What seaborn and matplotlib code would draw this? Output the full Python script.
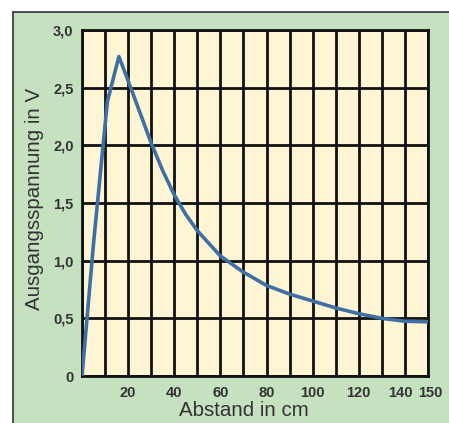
import matplotlib
matplotlib.use("Agg")
import matplotlib.pyplot as plt
import matplotlib.transforms as mtransforms
import seaborn as sns
import pandas as pd
from matplotlib.patches import Rectangle

# Data
abstand_cm = [0, 5, 11, 16, 20, 25, 30, 35, 40, 45, 50, 60, 70, 80, 90, 100, 110, 120, 130, 140, 150]
spannung_v = [0.0, 1.15, 2.38, 2.77, 2.56, 2.29, 2.02, 1.78, 1.57, 1.40, 1.26, 1.04, 0.90, 0.785, 0.71,
              0.65, 0.59, 0.54, 0.50, 0.475, 0.47]

x_grid = list(range(0, 151, 10))
x_tick_labels = ["", "", "20", "", "40", "", "60", "", "80", "", "100", "", "120", "", "140", "150"]
y_ticks = [0, 0.5, 1.0, 1.5, 2.0, 2.5, 3.0]
y_tick_labels = ["0", "0,5", "1,0", "1,5", "2,0", "2,5", "3,0"]

df = pd.DataFrame({"Abstand": abstand_cm, "Spannung": spannung_v})

sns.set_style("white")
plt.rcParams["font.family"] = ["Liberation Sans", "DejaVu Sans"]

fig = plt.figure(figsize=(4.49, 4.23), dpi=100)
fig.patch.set_facecolor("white")
# green panel with dark top/left border
panel = Rectangle((13 / 449, 0), 1 - 13 / 449 + 0.01, 1 - 12 / 423, transform=fig.transFigure,
                  facecolor="#c6e1c0", edgecolor="none", zorder=-5)
fig.patches.append(panel)
fig.add_artist(plt.Line2D([13 / 449, 13 / 449], [0, 1 - 12 / 423], color="#333333", lw=1.2,
                          transform=fig.transFigure, zorder=-4))
fig.add_artist(plt.Line2D([13 / 449, 1], [1 - 12 / 423, 1 - 12 / 423], color="#333333", lw=1.2,
                          transform=fig.transFigure, zorder=-4))

ax = fig.add_axes([82 / 449, 47 / 423, 346 / 449, 346 / 423])
ax.set_zorder(5)
ax.set_facecolor("#fdf5d3")

sns.lineplot(data=df, x="Abstand", y="Spannung", ax=ax, color="#3f6fa3", linewidth=2.6,
             zorder=5)

ax.set_xlim(0, 150)
ax.set_ylim(0, 3.0)
ax.set_xticks(x_grid)
ax.set_xticklabels(x_tick_labels)
ax.set_yticks(y_ticks)
ax.set_yticklabels(y_tick_labels)
ax.grid(True, color="#111111", linewidth=2.0, zorder=1)
ax.set_axisbelow(True)
for s in ax.spines.values():
    s.set_visible(True)
    s.set_color("#111111")
    s.set_linewidth(2.0)

ax.tick_params(axis="both", length=0, labelsize=10.5, labelcolor="#333333")
ax.tick_params(axis="y", pad=6)
ax.tick_params(axis="x", pad=7)
for lbl in ax.get_xticklabels() + ax.get_yticklabels():
    lbl.set_fontweight("bold")

# nudge the crowded end labels apart like in the reference
xl = ax.get_xticklabels()
xl[14].set_transform(xl[14].get_transform() + mtransforms.ScaledTranslation(-5 / 100, 0, fig.dpi_scale_trans))
xl[15].set_transform(xl[15].get_transform() + mtransforms.ScaledTranslation(2 / 100, 0, fig.dpi_scale_trans))

ax.set_xlabel("Abstand in cm", fontsize=14.8, color="#333333")
ax.set_ylabel("Ausgangsspannung in V", fontsize=14.8, color="#333333")
ax.xaxis.set_label_coords((244 - 82) / 346, -(410 - 376) / 346, transform=ax.transAxes)
ax.xaxis.label.set_va("center")
ax.yaxis.set_label_coords(-(82 - 35) / 346, 0.512, transform=ax.transAxes)
ax.yaxis.label.set_va("center")

fig.savefig("out.png", dpi=100)
